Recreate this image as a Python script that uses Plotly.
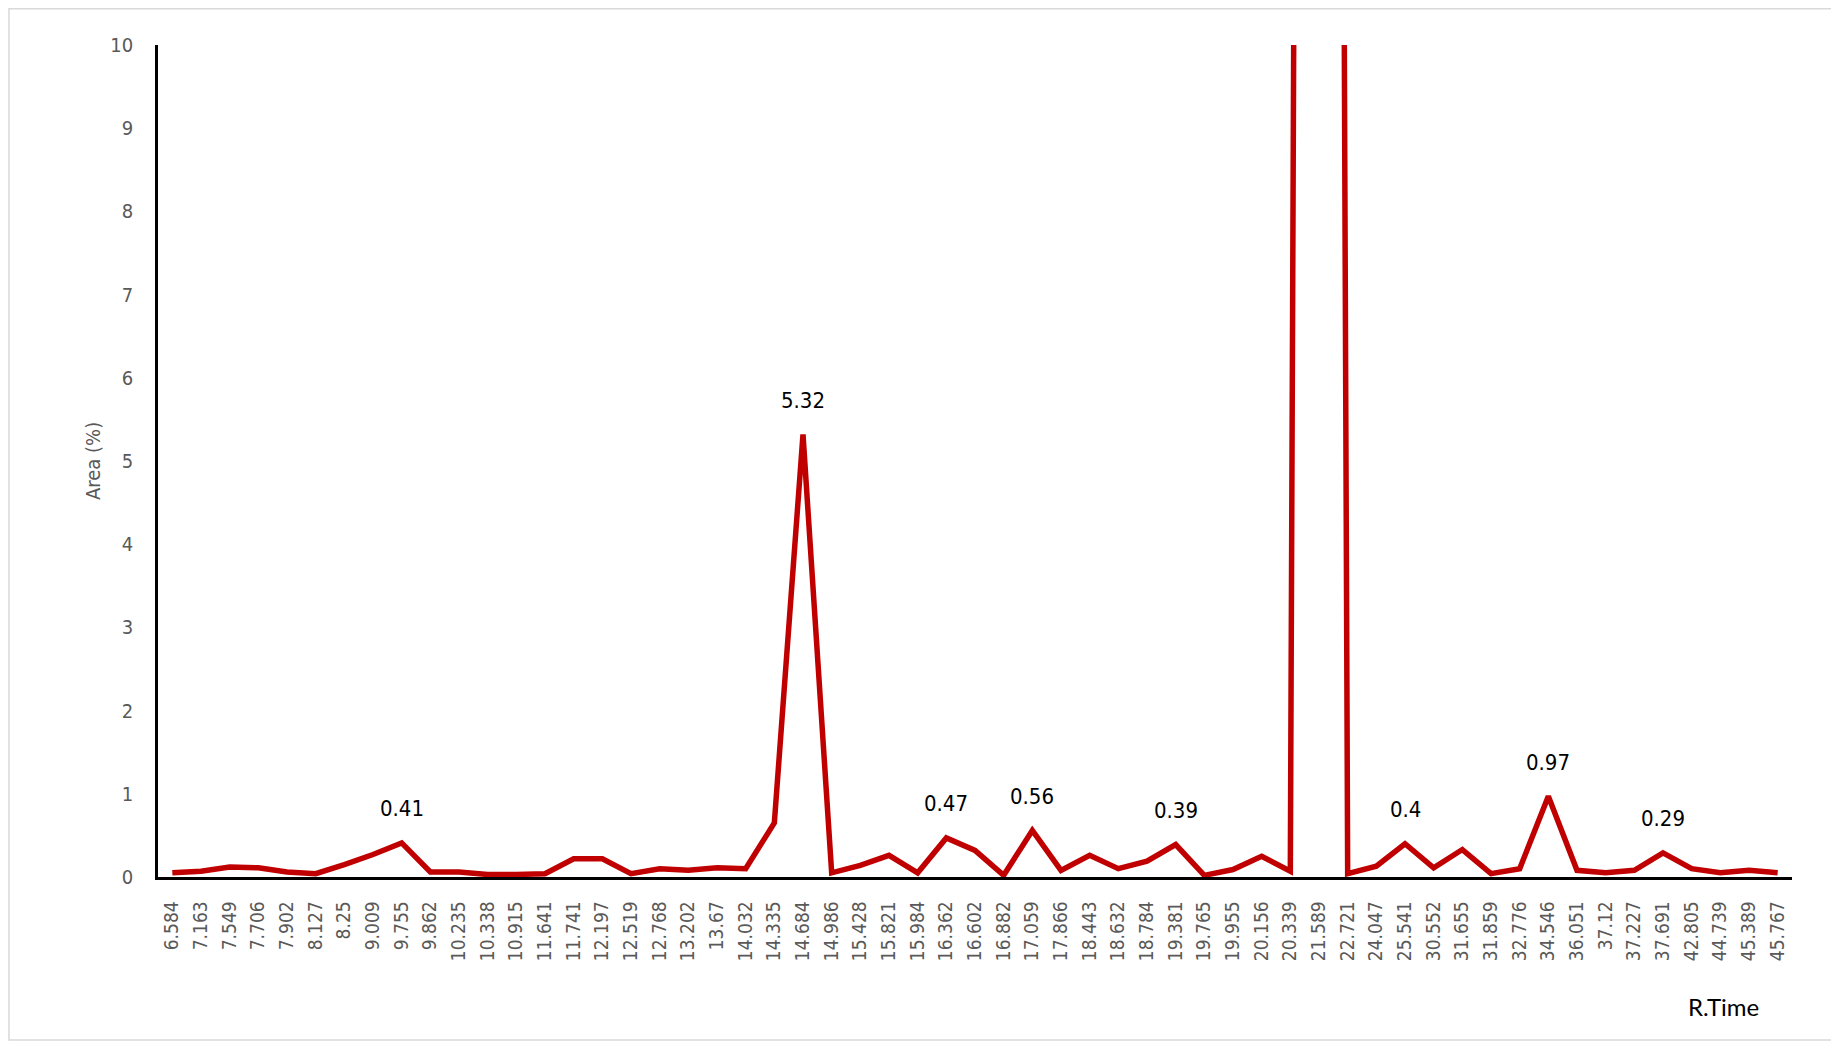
import plotly.graph_objects as go

r_time = ["6.584", "7.163", "7.549", "7.706", "7.902", "8.127", "8.25", "9.009", "9.755", "9.862",
          "10.235", "10.338", "10.915", "11.641", "11.741", "12.197", "12.519", "12.768", "13.202", "13.67",
          "14.032", "14.335", "14.684", "14.986", "15.428", "15.821", "15.984", "16.362", "16.602", "16.882",
          "17.059", "17.866", "18.443", "18.632", "18.784", "19.381", "19.765", "19.955", "20.156", "20.339",
          "21.589", "22.721", "24.047", "25.541", "30.552", "31.655", "31.859", "32.776", "34.546", "36.051",
          "37.12", "37.227", "37.691", "42.805", "44.739", "45.389", "45.767"]

area = [0.05, 0.07, 0.12, 0.11, 0.06, 0.04, 0.15, 0.27, 0.41, 0.06,
        0.06, 0.03, 0.03, 0.04, 0.22, 0.22, 0.04, 0.10, 0.08, 0.11,
        0.10, 0.65, 5.32, 0.05, 0.14, 0.26, 0.05, 0.47, 0.32, 0.02,
        0.56, 0.08, 0.26, 0.10, 0.19, 0.39, 0.02, 0.09, 0.25, 0.07,
        85.0, 0.04, 0.13, 0.40, 0.11, 0.33, 0.04, 0.10, 0.97, 0.08,
        0.05, 0.08, 0.29, 0.10, 0.05, 0.08, 0.05]

labelled = ["9.755", "14.684", "16.362", "17.059", "19.381", "25.541", "34.546", "37.691"]

narrow = "Liberation Sans Narrow, Arial Narrow, DejaVu Sans Condensed, sans-serif"
grey = "#595959"

fig = go.Figure()
fig.add_trace(go.Scatter(
    x=r_time, y=area, mode="lines",
    line=dict(color="#C00000", width=5.5, shape="linear"),
    hoverinfo="x+y", showlegend=False,
))

annotations = []
for t in labelled:
    i = r_time.index(t)
    v = area[i]
    annotations.append(dict(
        x=i, y=v, xref="x", yref="y", text=f"{v:g}", showarrow=False,
        yanchor="middle", xanchor="center", yshift=34,
        font=dict(family=narrow, size=22, color="#000000"),
    ))

annotations.append(dict(
    x=-0.0398, y=0.5, xref="paper", yref="paper", text="Area (%)", showarrow=False,
    textangle=-90, xanchor="center", yanchor="middle",
    font=dict(family=narrow, size=20, color=grey),
))
annotations.append(dict(
    x=0.9578, y=-0.1554, xref="paper", yref="paper", text="R.Time", showarrow=False,
    xanchor="center", yanchor="middle",
    font=dict(family="Lato, Open Sans, sans-serif", size=24, color="#000000"),
))

fig.update_layout(
    width=1839, height=1043,
    margin=dict(l=150, r=55, t=37, b=174, autoexpand=False),
    paper_bgcolor="white", plot_bgcolor="white",
    annotations=annotations,
    shapes=[dict(type="rect", xref="paper", yref="paper",
                 x0=-0.0912, x1=1.0275, y0=-0.196, y1=1.0435,
                 line=dict(color="#d9d9d9", width=1.5), fillcolor="rgba(0,0,0,0)", layer="below")],
    xaxis=dict(
        type="category", categoryorder="array", categoryarray=r_time,
        range=[-0.5, len(r_time) - 0.5],
        showline=True, linecolor="#000000", linewidth=2.5,
        showgrid=False, zeroline=False, ticks="", tickangle=-90,
        ticklabelstandoff=14,
        tickfont=dict(family=narrow, size=19, color=grey),
    ),
    yaxis=dict(
        range=[0, 10], dtick=1, tick0=0,
        showline=True, linecolor="#000000", linewidth=2.5,
        showgrid=False, zeroline=False, ticks="",
        ticklabelstandoff=18,
        tickfont=dict(family=narrow, size=20, color=grey),
    ),
)

fig.write_html("out.html")
